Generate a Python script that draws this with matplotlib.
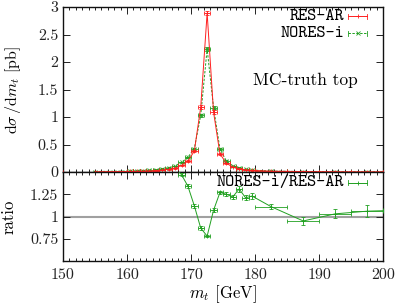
import numpy as np
import matplotlib
matplotlib.use("Agg")
import matplotlib.pyplot as plt
from matplotlib.ticker import FixedLocator, MultipleLocator, FuncFormatter
from matplotlib.lines import Line2D

plt.rcParams['font.family'] = 'cmr10'
plt.rcParams['mathtext.fontset'] = 'cm'
plt.rcParams['axes.unicode_minus'] = False
plt.rcParams['axes.formatter.use_mathtext'] = True

# ---- data ----
centers = [155, 160.5, 161.5, 162.5, 163.5, 164.5, 165.5, 166.5, 167.5, 168.5,
           169.5, 170.5, 171.5, 172.5, 173.5, 174.5, 175.5, 176.5, 177.5, 178.5,
           179.5, 182.5, 187.5, 192.5, 197.5, 202.5]
halfwidth = [5, 0.5, 0.5, 0.5, 0.5, 0.5, 0.5, 0.5, 0.5, 0.5,
             0.5, 0.5, 0.5, 0.5, 0.5, 0.5, 0.5, 0.5, 0.5, 0.5,
             0.5, 2.5, 2.5, 2.5, 2.5, 2.5]
res_ar = [0.005, 0.010, 0.012, 0.015, 0.020, 0.025, 0.035, 0.050, 0.070, 0.120,
          0.200, 0.380, 1.180, 2.890, 1.090, 0.330, 0.160, 0.090, 0.060, 0.040,
          0.030, 0.015, 0.008, 0.005, 0.004, 0.003]
res_ar_err = [0.002, 0.003, 0.003, 0.003, 0.004, 0.004, 0.005, 0.006, 0.007, 0.009,
              0.012, 0.018, 0.030, 0.040, 0.030, 0.015, 0.010, 0.007, 0.005, 0.004,
              0.003, 0.002, 0.002, 0.002, 0.002, 0.002]
nores_i = [0.009, 0.019, 0.022, 0.027, 0.035, 0.043, 0.058, 0.080, 0.109, 0.176,
           0.268, 0.426, 1.030, 2.240, 1.170, 0.420, 0.200, 0.110, 0.079, 0.048,
           0.037, 0.017, 0.008, 0.005, 0.004, 0.003]
nores_i_err = [0.003, 0.004, 0.004, 0.004, 0.005, 0.005, 0.006, 0.007, 0.008, 0.010,
               0.013, 0.018, 0.030, 0.040, 0.030, 0.016, 0.010, 0.007, 0.005, 0.004,
               0.003, 0.002, 0.002, 0.002, 0.002, 0.002]
ratio = [1.80, 1.90, 1.85, 1.80, 1.75, 1.70, 1.65, 1.60, 1.55, 1.47,
         1.34, 1.12, 0.87, 0.78, 1.07, 1.27, 1.25, 1.22, 1.31, 1.21,
         1.23, 1.11, 0.95, 1.03, 1.06, 1.07]
ratio_err = [0.05, 0.05, 0.05, 0.05, 0.05, 0.04, 0.04, 0.03, 0.03, 0.02,
             0.02, 0.02, 0.02, 0.015, 0.02, 0.02, 0.02, 0.02, 0.03, 0.03,
             0.03, 0.03, 0.04, 0.05, 0.07, 0.07]
xticks = [150, 160, 170, 180, 190, 200]
yticks_top = [0, 0.5, 1, 1.5, 2, 2.5, 3]
yticks_ratio = [0.75, 1, 1.25]

RED = '#ff2020'
GREEN = '#20a020'

fig = plt.figure(figsize=(3.99, 3.04), dpi=100)
W, H = 399, 304
def rect(x0, y0, x1, y1):
    return [x0 / W, 1 - y1 / H, (x1 - x0) / W, (y1 - y0) / H]

ax = fig.add_axes(rect(63, 7, 383.3, 172))
axr = fig.add_axes(rect(63, 172, 383.3, 261), sharex=ax)

ekw = dict(capsize=1.3, elinewidth=0.6, capthick=0.6, linewidth=0.7, markersize=3,
           markeredgewidth=0.6, clip_on=True)
ax.errorbar(centers, res_ar, xerr=halfwidth, yerr=res_ar_err, color=RED, marker='+',
            linestyle='-', zorder=3, **ekw)
ax.errorbar(centers, nores_i, xerr=halfwidth, yerr=nores_i_err, color=GREEN, marker='x',
            linestyle=(0, (2.5, 1.5)), zorder=2, **ekw)
axr.axhline(1, color='#a0a0a0', lw=1.5, zorder=1)
axr.errorbar(centers, ratio, xerr=halfwidth, yerr=ratio_err, color=GREEN, marker='+',
             linestyle='-', zorder=3, **ekw)

fmt = FuncFormatter(lambda v, p: '%g' % v)
for a in (ax, axr):
    a.set_xlim(150, 200)
    a.xaxis.set_major_locator(FixedLocator(xticks))
    a.xaxis.set_minor_locator(MultipleLocator(1))
    a.tick_params(which='both', direction='in', top=True, right=True, labelsize=11.5,
                  width=0.7, colors='#222222', labelcolor='#222222')
    a.tick_params(which='major', length=5)
    a.tick_params(which='minor', length=2)
    for s in a.spines.values():
        s.set_linewidth(1.0)
        s.set_color('#111111')
    a.yaxis.set_major_formatter(fmt)
    a.xaxis.set_major_formatter(fmt)

ax.set_ylim(0, 3)
ax.yaxis.set_major_locator(FixedLocator(yticks_top))
ax.tick_params(labelbottom=False)
axr.set_ylim(0.5, 1.5)
axr.yaxis.set_major_locator(FixedLocator(yticks_ratio))
axr.tick_params(axis='x', pad=5)

ax.set_ylabel(r'$\mathrm{d}\sigma\,/\mathrm{d}m_t$ [pb]', fontsize=11.5)
axr.set_ylabel('ratio', fontsize=12)
axr.set_xlabel(r'$m_t$ [GeV]', fontsize=12, labelpad=1)
ax.yaxis.set_label_coords(-0.125, 0.5)
axr.yaxis.set_label_coords(-0.145, 0.5)

ax.text(305.5 / W, 1 - 80 / H, 'MC-truth top', transform=fig.transFigure,
        ha='center', va='center', fontsize=12.5)

# legends (gnuplot style: right-aligned text, sample on the right)
def legend_entry(y, label, color, ls, marker):
    fig.text(344 / W, 1 - y / H, label, ha='right', va='center',
             family='cmtt10', fontsize=12.5)
    x0, x1 = 348 / W, 367 / W
    yy = 1 - y / H
    cap = 2.5 / H
    fig.add_artist(Line2D([x0, x1], [yy, yy], color=color, lw=0.7, linestyle=ls))
    for xc in (x0, x1):
        fig.add_artist(Line2D([xc, xc], [yy - cap, yy + cap], color=color, lw=0.6))
    fig.add_artist(Line2D([(x0 + x1) / 2], [yy], color=color, marker=marker,
                          markersize=3, markeredgewidth=0.6, lw=0))

legend_entry(16.3, 'RES-AR', RED, '-', '+')
legend_entry(33.3, 'NORES-i', GREEN, (0, (2.5, 1.5)), 'x')
legend_entry(182.5, 'NORES-i/RES-AR', GREEN, '-', '+')

fig.savefig('out.png', dpi=100)
